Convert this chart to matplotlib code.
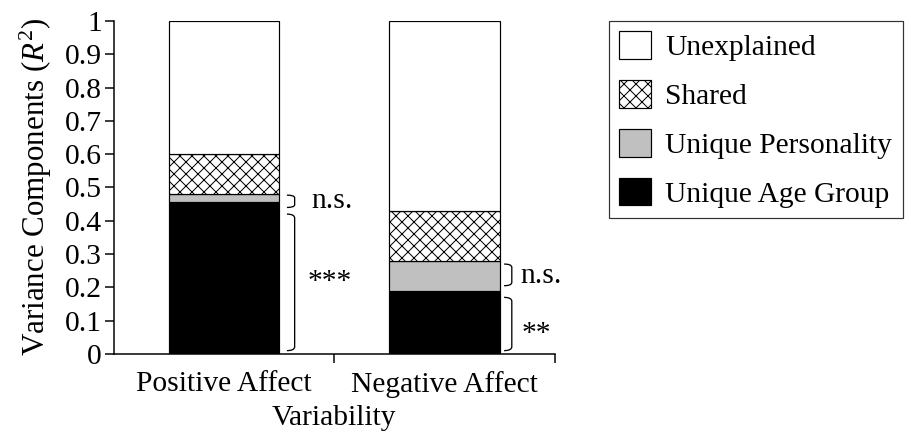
import numpy as np
import matplotlib.pyplot as plt
from matplotlib.path import Path
from matplotlib.patches import PathPatch, Patch

plt.rcParams['font.family'] = ['Liberation Serif', 'DejaVu Serif']
plt.rcParams['mathtext.fontset'] = 'custom'
plt.rcParams['mathtext.rm'] = 'Liberation Serif'
plt.rcParams['mathtext.it'] = 'Liberation Serif:italic'
plt.rcParams['hatch.linewidth'] = 1.0

# data
groups = ['Positive Affect', 'Negative Affect']
age_group = [0.455, 0.19]
personality = [0.025, 0.09]
shared = [0.12, 0.15]
unexplained = [0.40, 0.57]
sig_age = ['***', '**']
sig_pers = ['n.s.', 'n.s.']

FS = 29.5
fig = plt.figure(figsize=(911 / 72, 437 / 72), dpi=72)
ax = fig.add_axes([0.125, 0.19, 0.484, 0.762])

x = np.arange(len(groups))
w = 0.5
bottom = np.zeros(len(groups))
layers = [
    (age_group, 'black', None, 'Unique Age Group'),
    (personality, '#c0c0c0', None, 'Unique Personality'),
    (shared, 'white', 'xx', 'Shared'),
    (unexplained, 'white', None, 'Unexplained'),
]
for vals, col, hatch, lab in layers:
    ax.bar(x, vals, width=w, bottom=bottom, color=col, edgecolor='black',
           hatch=hatch, linewidth=1.2)
    bottom += np.array(vals)


def bracket(ax, xb, y0, y1, bw=0.035, r=0.012):
    verts = [(xb, y1), (xb + bw, y1), (xb + bw, y1 - r),
             (xb + bw, y0 + r), (xb + bw, y0), (xb, y0)]
    codes = [Path.MOVETO, Path.CURVE3, Path.CURVE3,
             Path.LINETO, Path.CURVE3, Path.CURVE3]
    ax.add_patch(PathPatch(Path(verts, codes), fill=False, lw=1.3,
                           edgecolor='black', clip_on=False))


# brace / label offsets for each bar (left bar, right bar)
brace_off = [0.035, 0.02]
ns_text_off = [0.145, 0.095]
star_text_off = [0.13, 0.10]
star_y = [0.215, 0.06]

for i in range(len(groups)):
    right = x[i] + w / 2
    a = age_group[i]
    p = personality[i]
    xb = right + brace_off[i]
    bracket(ax, xb, 0.01, a - 0.035 if i == 0 else a - 0.02)
    if i == 0:
        bracket(ax, xb, a - 0.015, a + p - 0.003, r=0.008)
    else:
        bracket(ax, xb, a + 0.015, p + a - 0.01, r=0.01)
    ax.text(right + ns_text_off[i], a + p / 2 if i == 1 else a + 0.003, sig_pers[i],
            fontsize=FS, va='center', ha='left')
    ax.text(right + star_text_off[i], star_y[i], sig_age[i],
            fontsize=FS, va='center', ha='left')

ax.set_xlim(-0.5, 1.5)
ax.set_ylim(0, 1)
ax.set_yticks(np.arange(0, 1.01, 0.1))
ax.set_yticklabels(['0'] + ['%.1f' % v for v in np.arange(0.1, 0.95, 0.1)] + ['1'])
ax.set_xticks(x)
ax.set_xticklabels(groups)
ax.set_xticks([0.5, 1.5], minor=True)
ax.tick_params(axis='x', which='major', length=0, pad=17, labelsize=FS)
ax.tick_params(axis='x', which='minor', length=9, width=1.5, direction='out')
ax.tick_params(axis='y', length=9, width=1.5, direction='out', pad=3, labelsize=FS)
for s in ['top', 'right']:
    ax.spines[s].set_visible(False)
for s in ['left', 'bottom']:
    ax.spines[s].set_linewidth(1.5)

ax.set_xlabel('Variability', fontsize=FS, labelpad=7)
ax.set_ylabel(r'Variance Components ($\mathit{R}^2$)', fontsize=31, labelpad=11)

handles = [Patch(facecolor=col, edgecolor='black', hatch=hatch, linewidth=1.2)
           for vals, col, hatch, lab in layers][::-1]
labels = [lab for vals, col, hatch, lab in layers][::-1]
leg = fig.legend(handles, labels, loc='upper left', bbox_to_anchor=(0.668, 0.952),
                 fontsize=FS, frameon=True, fancybox=False, handlelength=1.08,
                 handleheight=1.05, labelspacing=0.65, handletextpad=0.5,
                 borderpad=0.35, borderaxespad=0)
leg.get_frame().set_edgecolor('black')
leg.get_frame().set_linewidth(1.2)

fig.savefig('out.png', dpi=72, facecolor='white')
